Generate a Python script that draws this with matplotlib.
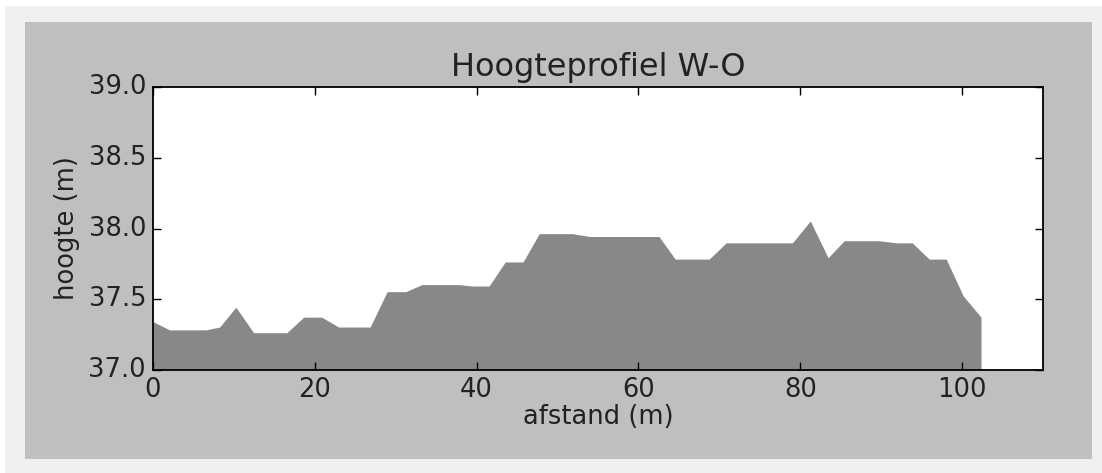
import matplotlib
matplotlib.use("Agg")
import matplotlib.pyplot as plt
from matplotlib.patches import Rectangle

afstand = [0.0, 2.1, 6.6, 8.3, 10.3, 12.5, 16.6, 18.7, 20.9, 23.0, 26.9,
           29.0, 31.3, 33.3, 37.9, 39.5, 41.6, 43.6, 45.8, 47.8, 51.9, 54.0,
           62.6, 64.6, 68.8, 70.9, 79.1, 81.3, 83.5, 85.5, 89.8, 91.9, 93.9,
           96.0, 98.1, 100.2, 102.4]
hoogte = [37.34, 37.28, 37.28, 37.30, 37.44, 37.26, 37.26, 37.37, 37.37,
          37.30, 37.30, 37.55, 37.55, 37.60, 37.60, 37.59, 37.59, 37.76,
          37.76, 37.96, 37.96, 37.94, 37.94, 37.78, 37.78, 37.895, 37.895,
          38.05, 37.79, 37.91, 37.91, 37.895, 37.895, 37.78, 37.78, 37.52,
          37.37]
xticks = [0, 20, 40, 60, 80, 100]
yticks = [37.0, 37.5, 38.0, 38.5, 39.0]

plt.style.use('classic')
plt.rcParams['font.family'] = 'DejaVu Sans'

fig = plt.figure(figsize=(11.02, 4.73), dpi=100, facecolor='white')
# lichte rand en grijze figuurachtergrond
fig.patches.append(Rectangle((5 / 1102, 0), 1, 1 - 6 / 473,
                             transform=fig.transFigure, facecolor='#efefef',
                             edgecolor='none', zorder=-2))
fig.patches.append(Rectangle((25 / 1102, 14 / 473), 1067 / 1102, 437 / 473,
                             transform=fig.transFigure, facecolor='#bfbfbf',
                             edgecolor='none', zorder=-1))

ax = fig.add_axes([153 / 1102, 1 - 370 / 473, 890 / 1102, 283 / 473])
ax.fill_between(afstand, hoogte, 37.0, facecolor='#888888', edgecolor='none')

ax.set_xlim(0, 110)
ax.set_ylim(37.0, 39.0)
ax.set_xticks(xticks)
ax.set_yticks(yticks)
ax.set_yticklabels(['%.1f' % v for v in yticks])
ax.tick_params(labelsize=18.5, length=6, width=1, direction='in', pad=5,
               labelcolor='#222222')
for s in ax.spines.values():
    s.set_linewidth(1.3)

ax.set_title('Hoogteprofiel W-O', fontsize=23, pad=8, color='#222222')
ax.set_xlabel('afstand (m)', fontsize=18.5, labelpad=1, color='#222222')
ax.set_ylabel('hoogte (m)', fontsize=18.5, labelpad=6, color='#222222')

fig.savefig('out.png', dpi=100, facecolor=fig.get_facecolor())
